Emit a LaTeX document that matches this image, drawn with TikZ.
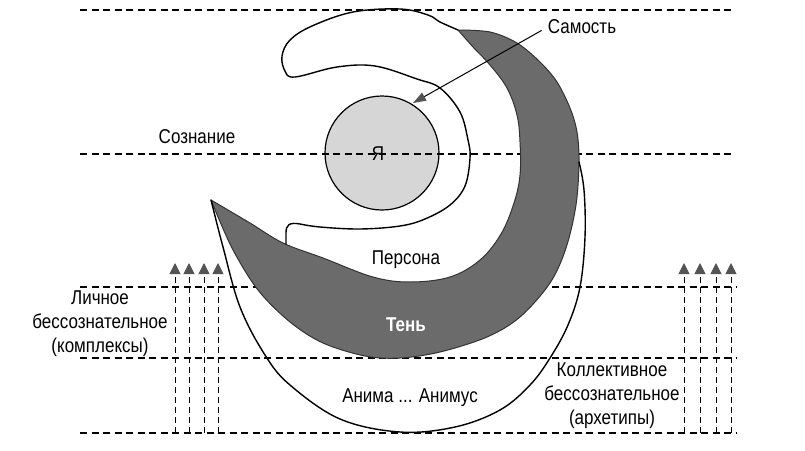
\documentclass[tikz,border=0pt]{standalone}
\usepackage{fontspec}
\setmainfont{Liberation Sans}[FakeStretch=0.85]
\usetikzlibrary{arrows.meta}
\definecolor{shadowgray}{gray}{0.42}
\definecolor{egofill}{gray}{0.84}
\definecolor{tipgray}{gray}{0.33}
\tikzset{
  lbl/.style={font=\fontsize{20}{24}\selectfont, inner sep=0pt, align=center},
  guide/.style={line width=1.1pt, dash pattern=on 7pt off 4.5pt},
  uparrow/.style={line width=0.9pt, dash pattern=on 6pt off 4pt,
    -{Triangle[width=11pt,length=11pt,fill=tipgray,color=tipgray]}},
  outline/.style={line width=1.4pt, line join=round, line cap=round},
}
\begin{document}
\begin{tikzpicture}[x=1pt,y=-1pt]
\fill[white] (0,0) rectangle (805,450);
\useasboundingbox (0,0) rectangle (805,450);

% ego circle
\node[circle, draw, line width=1.2pt, fill=egofill, minimum size=114pt, inner sep=0pt] (ego) at (382,153) {};

% horizontal guide lines
\foreach \n/\y/\r in {1/10/732, 2/154/735, 3/287/737, 4/358/737, 5/433/737}{
  \coordinate (hl\n) at (80,\y);
  \coordinate (hr\n) at (\r,\y);
  \draw[guide] (hl\n) -- (hr\n);
}

% shadow crescent
\draw[fill=shadowgray, draw=black!80, line width=1pt, line join=round]
  plot[smooth, tension=0.55] coordinates {(458,30) (490,32) (517,43) (540,62) (557,82) (570,108) (577,132) (579,162) (576,205) (566,248) (550,283) (520,317) (487,337) (440,352) (400,358) (365,356) (323,343) (290,322) (258,290) (232,248) (211,200)}
  -- plot[smooth, tension=0.6] coordinates {(211,200) (250,223) (283,243) (323,258) (373,277) (410,282) (450,277) (480,260) (501,234) (514,203) (520,175) (520,142) (517,115) (507,88) (490,65) (473,47) (458,30)}
  -- cycle;

% persona outline
\draw[outline]
  plot[smooth, tension=0.6] coordinates {(458,30) (440,22) (428,15) (400,9) (353,12) (312,26) (290,40) (282,56) (285,71) (295,77) (337,67) (375,66) (417,79) (440,88) (460,112) (468,140) (470,158) (465,186) (450,205) (425,219) (400,226) (360,229) (320,227) (300,224)}
  .. controls (289,222) and (286,225) .. (286,233) -- (286,244);

% anima outline
\draw[outline]
  plot[smooth, tension=0.6] coordinates {(211,200) (223,247) (240,307) (265,355) (290,385) (340,419) (400,432) (455,427) (500,410) (530,385) (550,358) (568,325) (580,287) (585,237) (584,190) (579,162)};

% vertical arrows
\foreach \i/\x in {1/175, 2/189, 3/204, 4/218, 5/684, 6/700, 7/716, 8/731}{
  \coordinate (vb\i) at (\x,433);
  \coordinate (vt\i) at (\x,263);
  \draw[uparrow] (vb\i) -- (vt\i);
}

% labels
\node[lbl] (ya) at (378,154) {Я};
\node[lbl] (self) at (582,27) {Самость};
\node[lbl] (consc) at (197,137) {Сознание};
\node[lbl] (persona) at (406,260) {Персона};
\node[lbl, text=white, font=\fontsize{20}{24}\selectfont\bfseries] (shadow) at (406,325) {Тень};
\node[lbl] (anima) at (410,398) {Анима ... Анимус};
\node[lbl] (personal) at (100,324) {Личное\\бессознательное\\(комплексы)};
\node[lbl] (collective) at (612,396) {Коллективное\\бессознательное\\(архетипы)};

% self arrow
\coordinate (selftip) at (413,103);
\draw[line width=1pt, shorten <=7pt, -{Triangle[width=9pt,length=13pt,fill=tipgray,color=tipgray]}] (self.west) -- (selftip);
\end{tikzpicture}
\end{document}
